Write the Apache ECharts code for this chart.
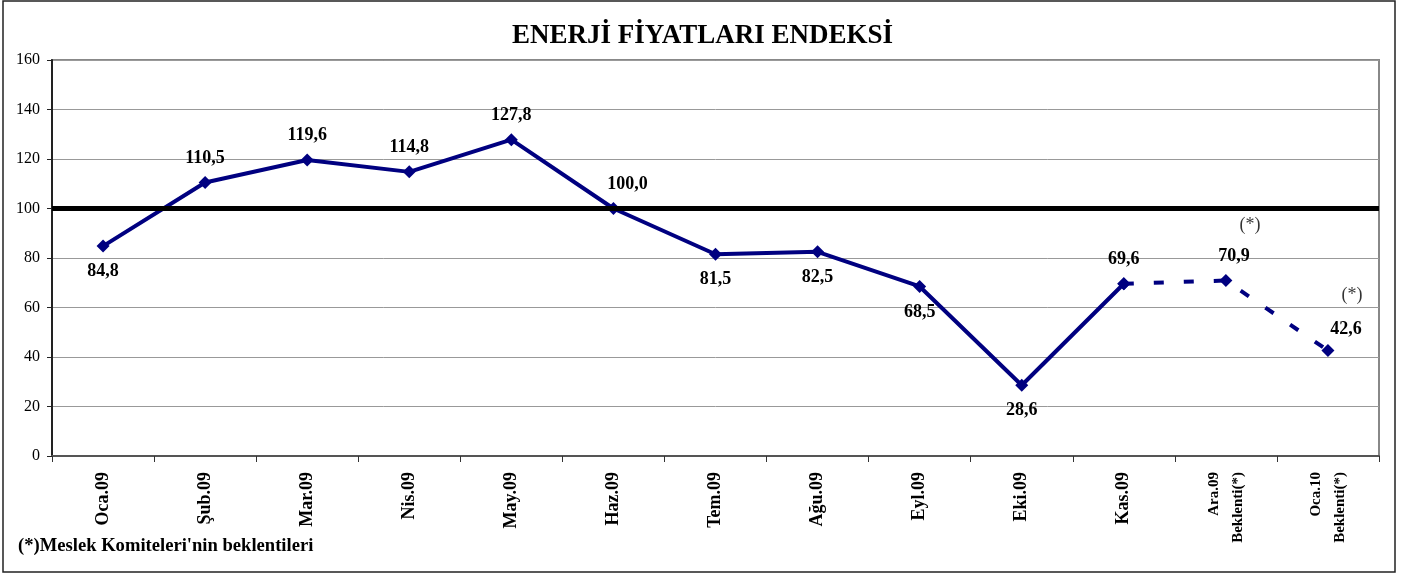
<!DOCTYPE html>
<html>
<head>
<meta charset="utf-8">
<script src="https://cdn.jsdelivr.net/npm/echarts@6/dist/echarts.min.js"></script>
<style>
  html, body { margin:0; padding:0; background:#fff; }
  #chart { width:1405px; height:577px; }
</style>
</head>
<body>
<div id="chart"></div>
<script>
// kategoriler ve endeks degerleri
var categories = ['Oca.09','Şub.09','Mar.09','Nis.09','May.09','Haz.09','Tem.09','Ağu.09','Eyl.09','Eki.09','Kas.09','Ara.09\nBeklenti(*)','Oca.10\nBeklenti(*)'];
var indexValues = [84.8, 110.5, 119.6, 114.8, 127.8, 100.0, 81.5, 82.5, 68.5, 28.6, 69.6, 70.9, 42.6];
var actualCount = 11; // Kas.09 dahil gerceklesen
var labelPos = ['bottom','top','top','top','top','top','bottom','bottom','bottom','bottom','top','top','top'];
var baseLevel = 100;

var font = '"Liberation Serif", "Times New Roman", serif';
var navy = '#000080';

function makeItem(i){
	var item = { value: indexValues[i], label: { position: labelPos[i] } };
	if (i === 5) item.label.offset = [14, 0];
	if (i === 11) item.label.offset = [8, 0];
	if (i === 12) item.label.offset = [18, 3];
	if (labelPos[i] === 'bottom') item.label.distance = 10;
	return item;
}

var solidData = [], dashedData = [], starData = [];
for (var i = 0; i < indexValues.length; i++) {
	solidData.push(i < actualCount ? makeItem(i) : '-');
	dashedData.push(i >= actualCount - 1 ? (i >= actualCount ? makeItem(i) : { value: indexValues[i], label: { show: false } }) : '-');
	starData.push(i >= actualCount ? indexValues[i] : '-');
}

var valFmt = function(p){ return p.value.toFixed(1).replace('.', ','); };

var myChart = echarts.init(document.getElementById('chart'));
var option = {
	animation: false,
	title: {
		text: 'ENERJİ FİYATLARI ENDEKSİ',
		left: 'center', top: 18,
		textStyle: { fontFamily: font, fontSize: 27, fontWeight: 'bold', color: '#000' }
	},
	grid: { left: 52, right: 26, top: 60, bottom: 121, show: true, borderColor: '#888', borderWidth: 2 },
	xAxis: {
		type: 'category',
		data: categories,
		boundaryGap: true,
		axisLine: { lineStyle: { color: '#555', width: 2 } },
		axisTick: { show: true, length: 6, lineStyle: { color: '#333' } },
		axisLabel: {
			rotate: 90, margin: 16, fontFamily: font, fontSize: 18, fontWeight: 'bold', color: '#000',
			formatter: function(v){
				if (v.indexOf('\n') < 0) return v;
				return v.split('\n').map(function(s){ return '{s|' + s + '}'; }).join('\n');
			},
			rich: { s: { fontFamily: font, fontSize: 15, fontWeight: 'bold', color: '#000', lineHeight: 24 } }
		}
	},
	yAxis: {
		type: 'value', min: 0, max: 160, interval: 20,
		axisLine: { show: true, lineStyle: { color: '#222', width: 2 } },
		axisTick: { show: true, length: 5, lineStyle: { color: '#222' } },
		axisLabel: { fontFamily: font, fontSize: 16, color: '#000', margin: 12 },
		splitLine: { lineStyle: { color: '#999', width: 1 } }
	},
	series: [
		{
			type: 'line', data: solidData, z: 3,
			symbol: 'diamond', symbolSize: 13,
			lineStyle: { color: navy, width: 4 },
			itemStyle: { color: navy },
			label: { show: true, fontFamily: font, fontSize: 18, fontWeight: 'bold', color: '#000', distance: 9, formatter: valFmt },
			markLine: {
				silent: true, symbol: 'none', label: { show: false },
				lineStyle: { color: '#000', width: 5, type: 'solid' },
				data: [{ yAxis: baseLevel }]
			}
		},
		{
			type: 'line', data: dashedData, z: 3,
			symbol: 'diamond', symbolSize: 13, showSymbol: true,
			lineStyle: { color: navy, width: 4, type: [10, 20] },
			itemStyle: { color: navy },
			label: { show: true, fontFamily: font, fontSize: 18, fontWeight: 'bold', color: '#000', distance: 9, formatter: valFmt }
		},
		{
			type: 'scatter', data: starData, symbolSize: 0, silent: true,
			label: { show: true, position: 'top', formatter: '(*)', offset: [24, -41],
				fontFamily: font, fontSize: 18, color: '#000' }
		}
	],
	graphic: [
		{ type: 'rect', shape: { x: 3, y: 1, width: 1392, height: 571 },
		  style: { fill: 'none', stroke: '#222', lineWidth: 1.5 }, silent: true },
		{ type: 'text', left: 18, top: 537,
		  style: { text: "(*)Meslek Komiteleri'nin beklentileri", font: 'bold 18.6px ' + font, fill: '#000' } }
	]
};
myChart.setOption(option);
</script>
</body>
</html>
